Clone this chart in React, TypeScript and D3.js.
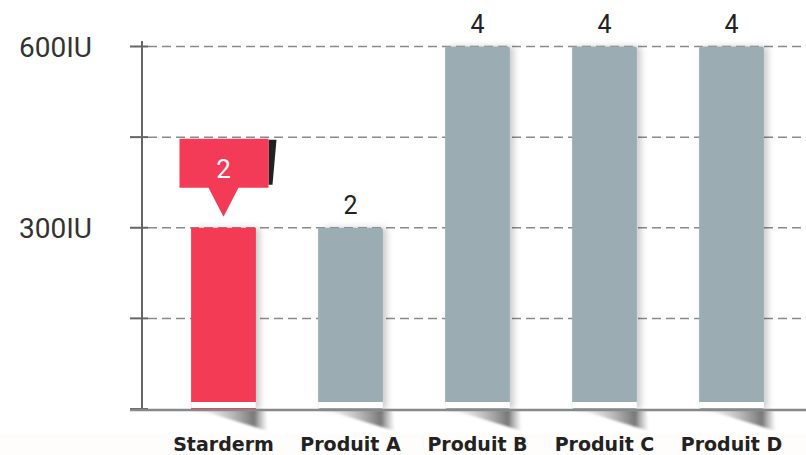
import React from "react";
import * as d3 from "d3";

// chart data
const categories = ["Starderm", "Produit A", "Produit B", "Produit C", "Produit D"];
const doses = [300, 300, 600, 600, 600];
const counts = [2, 2, 4, 4, 4];
const yTicks = [0, 150, 300, 450, 600];
const yLabelled = [300, 600];
const highlight = "Starderm";

const W = 806;
const H = 455;
const RED = "#f33a56";
const GREY = "#9badb3";

export default function App() {
  const x = d3
    .scaleBand<string>()
    .domain(categories)
    .range([160, 795])
    .paddingInner(0.49)
    .paddingOuter(0.245);

  const y = d3.scaleLinear().domain([0, 600]).range([409, 46.5]);
  const bw = x.bandwidth();
  const axisX = 142;

  return (
    <div style={{ position: "absolute", left: 0, top: 0 }}>
      <svg width={W} height={H} style={{ display: "block" }}>
        <defs>
          <filter id="sideShadow" x="-20%" y="-5%" width="160%" height="110%">
            <feDropShadow dx="4" dy="0" stdDeviation="3" floodColor="#000" floodOpacity="0.2" />
          </filter>
          <linearGradient id="ground" x1="0" x2="1" y1="0" y2="0">
            <stop offset="0" stopColor="#999" stopOpacity="0" />
            <stop offset="0.8" stopColor="#555" stopOpacity="0.8" />
            <stop offset="1" stopColor="#888" stopOpacity="0" />
          </linearGradient>
          <filter id="soft" x="-10%" y="-30%" width="120%" height="160%">
            <feGaussianBlur stdDeviation="1.2" />
          </filter>
        </defs>

        <rect x={0} y={0} width={W} height={H} fill="#fff" />
        <rect x={0} y={433} width={W} height={H - 433} fill="#fefdfb" />

        {/* grid */}
        {yTicks.filter((t) => t > 0).map((t) => (
          <line
            key={"g" + t}
            x1={axisX + 6}
            x2={W}
            y1={y(t)}
            y2={y(t)}
            stroke="#8a8a8a"
            strokeWidth={1.5}
            strokeDasharray="9 5"
          />
        ))}

        {/* ground shadows */}
        {categories.map((c) => {
          const l = x(c)!;
          const r = l + bw;
          return (
            <polygon
              key={"s" + c}
              points={`${l + 8},${y(0) + 1} ${r + 10},${y(0) + 1} ${r + 12},${y(0) + 22}`}
              fill="url(#ground)"
              filter="url(#soft)"
            />
          );
        })}

        {/* bars */}
        {categories.map((c, i) => (
          <g key={"b" + c}>
            <rect
              x={x(c)}
              y={y(doses[i])}
              width={bw}
              height={y(0) - y(doses[i])}
              rx={c === highlight ? 0 : 2}
              fill={c === highlight ? RED : GREY}
              filter="url(#sideShadow)"
            />
            <rect x={x(c)} y={y(0) - 7} width={bw} height={6} fill="#fff" />
          </g>
        ))}

        {/* value labels */}
        {categories.map((c, i) =>
          c === highlight ? null : (
            <text
              key={"v" + c}
              x={x(c)! + bw / 2}
              y={y(doses[i]) - 14}
              textAnchor="middle"
              fontFamily="Roboto, sans-serif"
              fontSize={25}
              fill="#222"
            >
              {counts[i]}
            </text>
          )
        )}

        {/* callout for highlighted bar */}
        {categories.map((c, i) => {
          if (c !== highlight) return null;
          const cx = x(c)! + bw / 2;
          const tip = y(doses[i]) - 11;
          const bot = tip - 29;
          const top = bot - 49;
          return (
            <g key="callout">
              <polygon
                points={`${cx + 45},${top + 1} ${cx + 53},${top + 1} ${cx + 49},${bot - 3} ${cx + 45},${bot - 3}`}
                fill="#222"
              />
              <path
                d={`M${cx - 44},${top} H${cx + 45} V${bot} H${cx + 15} L${cx},${tip} L${cx - 15},${bot} H${cx - 44} Z`}
                fill={RED}
              />
              <text
                x={cx}
                y={bot - 10}
                textAnchor="middle"
                fontFamily="Roboto, sans-serif"
                fontSize={26}
                fill="#fff"
              >
                {counts[i]}
              </text>
            </g>
          );
        })}

        {/* y axis */}
        <line x1={axisX} x2={axisX} y1={41} y2={410} stroke="#666" strokeWidth={2} />
        {yTicks.map((t) => (
          <line key={"t" + t} x1={130} x2={148} y1={y(t)} y2={y(t)} stroke="#666" strokeWidth={2} />
        ))}
        {yLabelled.map((t) => (
          <text
            key={"l" + t}
            x={92}
            y={y(t) + 10}
            textAnchor="end"
            fontFamily="Roboto, sans-serif"
            fontSize={28}
            fill="#333"
          >
            {t}IU
          </text>
        ))}

        {/* baseline */}
        <line x1={130} x2={W} y1={y(0) + 1} y2={y(0) + 1} stroke="#888" strokeWidth={2.5} />

        {/* category labels */}
        {categories.map((c) => (
          <text
            key={"c" + c}
            x={x(c)! + bw / 2}
            y={451}
            textAnchor="middle"
            fontFamily="'DejaVu Sans', sans-serif"
            fontWeight="bold"
            fontSize={19}
            fill="#222"
          >
            {c}
          </text>
        ))}
      </svg>
    </div>
  );
}
